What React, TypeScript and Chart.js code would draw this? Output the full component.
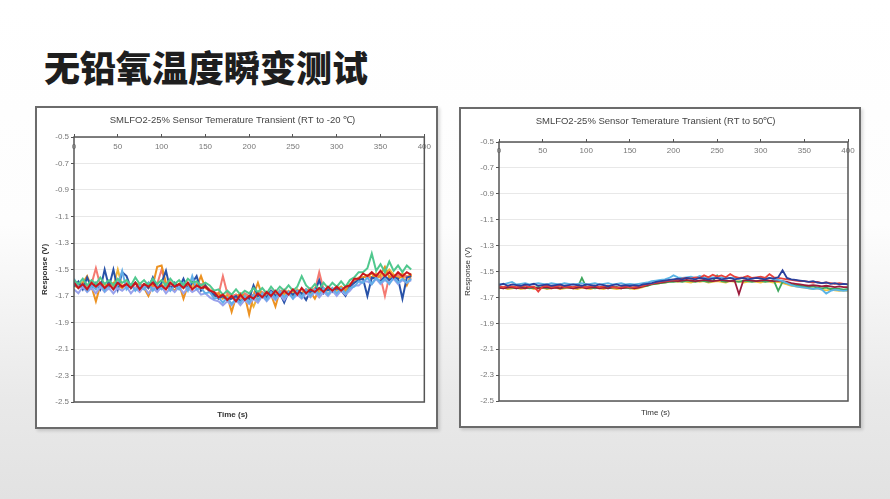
import { useEffect, useRef } from 'react';
import { Chart, registerables } from 'chart.js';

Chart.register(...registerables);

const FONT = 'Liberation Sans, Arial, sans-serif';

// time axis (s), one reading every 5 s
const times = [
  0, 5, 10, 15, 20, 25, 30, 35, 40, 45, 50, 55, 60, 65, 70, 75, 80, 85, 90, 95,
  100, 105, 110, 115, 120, 125, 130, 135, 140, 145, 150, 155, 160, 165, 170, 175, 180, 185, 190, 195,
  200, 205, 210, 215, 220, 225, 230, 235, 240, 245, 250, 255, 260, 265, 270, 275, 280, 285, 290, 295,
  300, 305, 310, 315, 320, 325, 330, 335, 340, 345, 350, 355, 360, 365, 370, 375, 380, 385, 390, 395,
  400,
];

const xMin = 0;
const xMax = 400;
const xStep = 50;
const yMin = -2.5;
const yMax = -0.5;
const yStep = 0.2;

// ---- RT to -20 °C (0..385 s) ----
const coldRed = [
  -1.60, -1.64, -1.61, -1.65, -1.60, -1.63, -1.60, -1.64, -1.61, -1.65, -1.60, -1.63, -1.61, -1.64, -1.60, -1.65,
  -1.61, -1.63, -1.60, -1.64, -1.62, -1.65, -1.60, -1.63, -1.61, -1.64, -1.60, -1.65, -1.62, -1.64, -1.63,
  -1.66, -1.67, -1.71, -1.69, -1.73, -1.70, -1.74, -1.69, -1.73, -1.70, -1.72, -1.68,
  -1.71, -1.67, -1.70, -1.66, -1.70, -1.66, -1.69, -1.65, -1.69, -1.64, -1.68, -1.65, -1.67, -1.64, -1.67, -1.63,
  -1.66, -1.63, -1.66, -1.63,
  -1.62, -1.57, -1.57, -1.53,
  -1.55, -1.52, -1.55, -1.51, -1.55, -1.52, -1.56, -1.52, -1.55, -1.52, -1.54,
];
const coldMint = [
  -1.58, -1.61, -1.57, -1.62, -1.58, -1.61, -1.56, -1.61, -1.58, -1.62, -1.57, -1.60, -1.58, -1.62, -1.56, -1.61,
  -1.58, -1.62, -1.57, -1.61, -1.58, -1.62, -1.57, -1.61, -1.58, -1.62, -1.57, -1.60, -1.59, -1.62, -1.60,
  -1.62, -1.66, -1.65, -1.69, -1.66, -1.69, -1.65, -1.69, -1.66, -1.68, -1.64, -1.67,
  -1.64, -1.68, -1.63, -1.67, -1.63, -1.66, -1.62, -1.66, -1.63, -1.55, -1.62, -1.65, -1.61, -1.65, -1.60, -1.64,
  -1.60, -1.63, -1.59, -1.63,
  -1.58, -1.56, -1.52, -1.52,
  -1.49, -1.38, -1.51, -1.46, -1.52, -1.44, -1.51, -1.47, -1.52, -1.47, -1.50,
];
const coldLightBlue = [
  -1.57, -1.64, -1.61, -1.66, -1.62, -1.65, -1.60, -1.66, -1.61, -1.65, -1.62, -1.51, -1.65, -1.61, -1.66, -1.62,
  -1.65, -1.60, -1.66, -1.62, -1.65, -1.61, -1.66, -1.62, -1.65, -1.60, -1.66, -1.55, -1.65, -1.64, -1.68,
  -1.67, -1.72, -1.71, -1.75, -1.71, -1.76, -1.72, -1.75, -1.70, -1.75, -1.69, -1.73,
  -1.68, -1.73, -1.67, -1.72, -1.66, -1.71, -1.67, -1.72, -1.66, -1.71, -1.65, -1.70, -1.65, -1.69, -1.64, -1.69,
  -1.64, -1.68, -1.64, -1.68,
  -1.64, -1.63, -1.59, -1.60,
  -1.56, -1.61, -1.56, -1.60, -1.57, -1.61, -1.56, -1.60, -1.57, -1.60, -1.57,
];
const coldLavender = [
  -1.65, -1.68, -1.63, -1.67, -1.64, -1.68, -1.63, -1.67, -1.64, -1.68, -1.64, -1.66, -1.63, -1.68, -1.64, -1.67,
  -1.63, -1.68, -1.64, -1.67, -1.63, -1.68, -1.64, -1.67, -1.63, -1.68, -1.64, -1.67, -1.65, -1.69, -1.68,
  -1.71, -1.73, -1.74, -1.77, -1.74, -1.77, -1.73, -1.77, -1.73, -1.76, -1.72, -1.75,
  -1.70, -1.74, -1.70, -1.73, -1.69, -1.73, -1.68, -1.72, -1.69, -1.72, -1.68, -1.71, -1.67, -1.71, -1.67, -1.70,
  -1.66, -1.70, -1.66, -1.69,
  -1.66, -1.62, -1.62, -1.59,
  -1.59, -1.61, -1.57, -1.61, -1.58, -1.60, -1.57, -1.61, -1.58, -1.60, -1.58,
];
const coldBlue = [
  -1.63, -1.59, -1.65, -1.56, -1.64, -1.60, -1.65, -1.50, -1.63, -1.50, -1.65, -1.52, -1.55, -1.64, -1.60, -1.65,
  -1.61, -1.64, -1.56, -1.65, -1.60, -1.51, -1.65, -1.60, -1.64, -1.57, -1.65, -1.60, -1.55, -1.66, -1.62,
  -1.67, -1.69, -1.72, -1.70, -1.73, -1.72, -1.70, -1.74, -1.71, -1.72, -1.62, -1.70,
  -1.69, -1.71, -1.66, -1.70, -1.68, -1.75, -1.67, -1.69, -1.66, -1.68, -1.73, -1.66, -1.67, -1.58, -1.68, -1.65,
  -1.67, -1.64, -1.66, -1.70,
  -1.63, -1.60, -1.58, -1.57,
  -1.70, -1.56, -1.57, -1.59, -1.55, -1.58, -1.56, -1.57, -1.72, -1.56, -1.55,
];
const coldOrange = [
  -1.62, -1.64, -1.60, -1.55, -1.63, -1.74, -1.62, -1.61, -1.63, -1.60, -1.62, -1.64, -1.61, -1.63, -1.60, -1.62,
  -1.64, -1.70, -1.62, -1.48, -1.47, -1.60, -1.63, -1.66, -1.61, -1.72, -1.62, -1.60, -1.63, -1.55, -1.64,
  -1.66, -1.70, -1.68, -1.72, -1.70, -1.82, -1.71, -1.68, -1.70, -1.84, -1.69, -1.60,
  -1.70, -1.67, -1.69, -1.78, -1.66, -1.68, -1.67, -1.70, -1.66, -1.68, -1.65, -1.67, -1.72, -1.65, -1.66, -1.64,
  -1.67, -1.65, -1.63, -1.66,
  -1.62, -1.60, -1.57, -1.56,
  -1.55, -1.53, -1.57, -1.54, -1.48, -1.56, -1.54, -1.57, -1.55, -1.62, -1.54,
];
const coldSalmon = [
  -1.61, -1.62, -1.60, -1.63, -1.61, -1.49, -1.62, -1.63, -1.60, -1.62, -1.61, -1.63, -1.60, -1.62, -1.64, -1.61,
  -1.62, -1.60, -1.63, -1.61, -1.50, -1.62, -1.60, -1.63, -1.61, -1.62, -1.64, -1.60, -1.62, -1.61, -1.63,
  -1.65, -1.67, -1.69, -1.55, -1.68, -1.70, -1.69, -1.71, -1.68, -1.70, -1.69, -1.68,
  -1.67, -1.69, -1.66, -1.68, -1.67, -1.65, -1.68, -1.66, -1.67, -1.65, -1.66, -1.64, -1.66, -1.52, -1.65, -1.64,
  -1.66, -1.63, -1.65, -1.64,
  -1.62, -1.59, -1.57, -1.56,
  -1.55, -1.57, -1.54, -1.56, -1.70, -1.55, -1.57, -1.54, -1.56, -1.55, -1.57,
];
const coldGold = [
  -1.61, -1.63, -1.60, -1.64, -1.61, -1.63, -1.60, -1.64, -1.61, -1.63, -1.50, -1.63, -1.61, -1.64, -1.60, -1.63,
  -1.61, -1.64, -1.60, -1.63, -1.61, -1.64, -1.60, -1.63, -1.61, -1.64, -1.60, -1.63, -1.61, -1.64, -1.62,
  -1.65, -1.68, -1.68, -1.71, -1.69, -1.72, -1.69, -1.72, -1.69, -1.72, -1.78, -1.70,
  -1.68, -1.70, -1.67, -1.69, -1.66, -1.69, -1.66, -1.68, -1.65, -1.68, -1.65, -1.67, -1.64, -1.67, -1.64, -1.66,
  -1.64, -1.66, -1.63, -1.66,
  -1.61, -1.59, -1.56, -1.56,
  -1.54, -1.56, -1.53, -1.56, -1.53, -1.50, -1.54, -1.56, -1.53, -1.56, -1.53,
];

// ---- RT to 50 °C (0..400 s) ----
const hotLightBlue = [
  -1.595, -1.600, -1.590, -1.580, -1.600, -1.595, -1.590, -1.600, -1.595, -1.590,
  -1.595, -1.600, -1.590, -1.595, -1.600, -1.590, -1.595, -1.600, -1.595, -1.590,
  -1.600, -1.595, -1.590, -1.600, -1.595, -1.590, -1.600, -1.595, -1.590, -1.600,
  -1.595, -1.600, -1.595, -1.590, -1.585, -1.575, -1.570, -1.565, -1.560, -1.550,
  -1.530, -1.545, -1.550, -1.545, -1.540, -1.550, -1.535, -1.545, -1.550, -1.545,
  -1.550, -1.545, -1.555, -1.550, -1.545, -1.555, -1.550, -1.545, -1.555, -1.550,
  -1.545, -1.555, -1.550, -1.560, -1.565, -1.575, -1.590, -1.605, -1.615, -1.620,
  -1.625, -1.630, -1.635, -1.630, -1.640, -1.670, -1.650, -1.640, -1.645, -1.650,
  -1.645,
];
const hotBlue = [
  -1.605, -1.595, -1.610, -1.600, -1.605, -1.610, -1.600, -1.605, -1.595, -1.610,
  -1.605, -1.600, -1.610, -1.605, -1.600, -1.610, -1.605, -1.600, -1.605, -1.610,
  -1.600, -1.605, -1.610, -1.600, -1.605, -1.615, -1.605, -1.600, -1.610, -1.605,
  -1.610, -1.605, -1.610, -1.600, -1.595, -1.590, -1.580, -1.575, -1.570, -1.565,
  -1.560, -1.555, -1.560, -1.550, -1.555, -1.560, -1.550, -1.555, -1.560, -1.555,
  -1.550, -1.560, -1.555, -1.550, -1.560, -1.555, -1.550, -1.560, -1.555, -1.550,
  -1.555, -1.560, -1.550, -1.555, -1.545, -1.490, -1.550, -1.560, -1.565, -1.570,
  -1.575, -1.580, -1.575, -1.585, -1.590, -1.585, -1.595, -1.590, -1.600, -1.595,
  -1.600,
];
const hotRed = [
  -1.615, -1.620, -1.610, -1.615, -1.620, -1.615, -1.610, -1.620, -1.615, -1.655,
  -1.615, -1.610, -1.620, -1.615, -1.610, -1.620, -1.615, -1.620, -1.610, -1.615,
  -1.620, -1.615, -1.610, -1.620, -1.615, -1.610, -1.620, -1.625, -1.620, -1.615,
  -1.625, -1.620, -1.615, -1.610, -1.600, -1.595, -1.585, -1.580, -1.575, -1.570,
  -1.565, -1.560, -1.555, -1.550, -1.555, -1.545, -1.550, -1.530, -1.545, -1.525,
  -1.540, -1.530, -1.545, -1.520, -1.540, -1.550, -1.545, -1.535, -1.550, -1.545,
  -1.540, -1.550, -1.520, -1.545, -1.550, -1.555, -1.560, -1.565, -1.570, -1.575,
  -1.575, -1.580, -1.585, -1.580, -1.590, -1.585, -1.590, -1.595, -1.590, -1.595,
  -1.600,
];
const hotGreen = [
  -1.625, -1.630, -1.620, -1.625, -1.630, -1.620, -1.625, -1.630, -1.625, -1.620,
  -1.625, -1.630, -1.625, -1.620, -1.630, -1.625, -1.620, -1.630, -1.625, -1.550,
  -1.620, -1.625, -1.630, -1.625, -1.620, -1.630, -1.625, -1.620, -1.630, -1.625,
  -1.630, -1.625, -1.620, -1.615, -1.610, -1.600, -1.595, -1.590, -1.585, -1.580,
  -1.580, -1.575, -1.580, -1.570, -1.575, -1.580, -1.570, -1.575, -1.580, -1.575,
  -1.530, -1.575, -1.580, -1.570, -1.575, -1.580, -1.570, -1.575, -1.580, -1.575,
  -1.570, -1.580, -1.575, -1.570, -1.650, -1.580, -1.590, -1.600, -1.605, -1.610,
  -1.615, -1.620, -1.615, -1.625, -1.630, -1.625, -1.635, -1.630, -1.635, -1.640,
  -1.635,
];
const hotGold = [
  -1.630, -1.625, -1.635, -1.630, -1.625, -1.635, -1.630, -1.625, -1.635, -1.630,
  -1.625, -1.635, -1.630, -1.625, -1.635, -1.630, -1.625, -1.630, -1.635, -1.625,
  -1.630, -1.635, -1.625, -1.630, -1.635, -1.625, -1.630, -1.635, -1.630, -1.625,
  -1.630, -1.635, -1.630, -1.620, -1.610, -1.600, -1.595, -1.590, -1.585, -1.580,
  -1.575, -1.580, -1.575, -1.580, -1.585, -1.575, -1.580, -1.575, -1.585, -1.580,
  -1.575, -1.580, -1.585, -1.575, -1.580, -1.575, -1.585, -1.580, -1.575, -1.580,
  -1.585, -1.575, -1.580, -1.585, -1.580, -1.590, -1.600, -1.610, -1.615, -1.620,
  -1.625, -1.630, -1.635, -1.630, -1.640, -1.645, -1.640, -1.645, -1.650, -1.645,
  -1.650,
];
const hotMaroon = [
  -1.625, -1.630, -1.625, -1.620, -1.630, -1.625, -1.630, -1.620, -1.625, -1.630,
  -1.625, -1.620, -1.630, -1.625, -1.630, -1.620, -1.625, -1.630, -1.625, -1.620,
  -1.630, -1.625, -1.620, -1.630, -1.625, -1.630, -1.620, -1.625, -1.630, -1.625,
  -1.620, -1.630, -1.625, -1.615, -1.605, -1.595, -1.590, -1.585, -1.580, -1.575,
  -1.570, -1.575, -1.570, -1.565, -1.570, -1.575, -1.570, -1.565, -1.570, -1.575,
  -1.570, -1.565, -1.570, -1.575, -1.570, -1.675, -1.570, -1.565, -1.570, -1.575,
  -1.570, -1.565, -1.570, -1.575, -1.570, -1.575, -1.580, -1.590, -1.595, -1.600,
  -1.605, -1.610, -1.605, -1.610, -1.615, -1.610, -1.615, -1.620, -1.615, -1.620,
  -1.620,
];

// first entry is drawn on top
const coldSeries = [
  { color: '#c8161d', values: coldRed },
  { color: '#50c88e', values: coldMint },
  { color: '#62aee8', values: coldLightBlue },
  { color: '#98a2ec', values: coldLavender },
  { color: '#2852a8', values: coldBlue },
  { color: '#ec9222', values: coldOrange },
  { color: '#f47a72', values: coldSalmon },
  { color: '#f0b43a', values: coldGold },
];
const hotSeries = [
  { color: '#2a3f9c', values: hotBlue },
  { color: '#e8423c', values: hotRed },
  { color: '#5ab4e6', values: hotLightBlue },
  { color: '#9b1b3b', values: hotMaroon },
  { color: '#3da65c', values: hotGreen },
  { color: '#f2c13a', values: hotGold },
];

// box round the plot area
const plotFrame = {
  id: 'plotFrame',
  afterDatasetsDraw(chart: Chart) {
    const { ctx, chartArea: a } = chart;
    ctx.save();
    ctx.strokeStyle = '#555';
    ctx.lineWidth = 1.5;
    ctx.strokeRect(a.left, a.top, a.right - a.left, a.bottom - a.top);
    ctx.restore();
  },
};

type Cfg = {
  title: string;
  series: { color: string; values: number[] }[];
  lineWidth: number;
  padRight: number;
  yWidth: number;
  yTitlePad: number;
  titlePad: { top: number; bottom: number };
  subPad: { top: number; bottom: number };
  xTickPad: number;
  bold: boolean;
};

function TransientChart({ cfg, width, height }: { cfg: Cfg; width: number; height: number }) {
  const canvasRef = useRef<HTMLCanvasElement>(null);
  const chartRef = useRef<Chart | null>(null);

  useEffect(() => {
    if (!canvasRef.current) return;
    if (chartRef.current) chartRef.current.destroy();

    const weight = cfg.bold ? 'bold' : 'normal';
    chartRef.current = new Chart(canvasRef.current, {
      type: 'line',
      data: {
        datasets: cfg.series.map((s) => ({
          data: s.values.map((y, i) => ({ x: times[i], y })),
          borderColor: s.color,
          backgroundColor: s.color,
          borderWidth: cfg.lineWidth,
          pointRadius: 0,
          tension: 0,
        })),
      },
      options: {
        responsive: true,
        maintainAspectRatio: false,
        animation: false,
        layout: { padding: { left: 2, right: cfg.padRight, top: 0, bottom: 0 } },
        plugins: {
          legend: { display: false },
          tooltip: { enabled: false },
          title: {
            display: true,
            text: cfg.title,
            color: '#444',
            font: { family: FONT, size: 9.5, weight: 'normal' },
            padding: cfg.titlePad,
          },
          subtitle: {
            display: true,
            position: 'bottom',
            text: 'Time (s)',
            color: '#333',
            font: { family: FONT, size: 8, weight },
            padding: cfg.subPad,
          },
        },
        scales: {
          x: {
            type: 'linear',
            position: 'top',
            min: xMin,
            max: xMax,
            ticks: { stepSize: xStep, mirror: true, padding: cfg.xTickPad, color: '#777', font: { family: FONT, size: 8 } },
            grid: { drawOnChartArea: false, tickLength: 3, tickColor: '#555' },
            border: { display: false },
            afterFit: (s: any) => { s.height = 3; },
          },
          y: {
            min: yMin,
            max: yMax,
            ticks: {
              stepSize: yStep,
              padding: 2,
              color: '#777',
              font: { family: FONT, size: 8 },
              callback: (v: any) => Number(v).toFixed(1),
            },
            grid: { color: '#e8e8e8', tickColor: '#555', tickLength: 3 },
            border: { display: false },
            title: {
              display: true,
              text: 'Response (V)',
              color: '#333',
              font: { family: FONT, size: 8, weight },
              padding: { top: cfg.yTitlePad, bottom: 0 },
            },
            afterFit: (s: any) => { s.width = cfg.yWidth; },
          },
        },
      },
      plugins: [plotFrame],
    });

    return () => {
      if (chartRef.current) {
        chartRef.current.destroy();
        chartRef.current = null;
      }
    };
  }, [cfg]);

  return (
    <div style={{ position: 'relative', width, height }}>
      <canvas ref={canvasRef}></canvas>
    </div>
  );
}

const coldCfg: Cfg = {
  title: 'SMLFO2-25% Sensor Temerature Transient (RT to -20 ℃)',
  series: coldSeries,
  lineWidth: 2,
  padRight: 10,
  yWidth: 35,
  yTitlePad: 1,
  titlePad: { top: 6.3, bottom: 8.3 },
  subPad: { top: 8.2, bottom: 7.2 },
  xTickPad: 5,
  bold: true,
};

const hotCfg: Cfg = {
  title: 'SMLFO2-25% Sensor Temerature Transient (RT to 50℃)',
  series: hotSeries,
  lineWidth: 1.8,
  padRight: 11,
  yWidth: 36,
  yTitlePad: 0,
  titlePad: { top: 6.3, bottom: 12.3 },
  subPad: { top: 6.9, bottom: 8.5 },
  xTickPad: 4,
  bold: false,
};

const frameStyle = {
  position: 'absolute' as const,
  background: '#fff',
  border: '2px solid #6b6b6b',
  boxShadow: '2px 2px 3px rgba(0,0,0,0.15)',
};

export default function App() {
  return (
    <div
      style={{
        position: 'fixed',
        left: 0,
        top: 0,
        width: 890,
        height: 499,
        overflow: 'hidden',
        background: 'linear-gradient(180deg, #ffffff 0%, #fdfdfd 45%, #e9e9e9 80%, #e2e2e2 100%)',
      }}
    >
      <div
        style={{
          position: 'absolute',
          left: 44,
          top: 48,
          fontFamily: '"Noto Sans CJK SC", sans-serif',
          fontWeight: 900,
          fontSize: 36,
          lineHeight: '36px',
          color: '#1e1e1e',
          whiteSpace: 'nowrap',
        }}
      >
        无铅氧温度瞬变测试
      </div>
      <div style={{ ...frameStyle, left: 35, top: 106, width: 399, height: 319 }}>
        <TransientChart cfg={coldCfg} width={399} height={319} />
      </div>
      <div style={{ ...frameStyle, left: 459, top: 107, width: 398, height: 317 }}>
        <TransientChart cfg={hotCfg} width={398} height={317} />
      </div>
    </div>
  );
}
